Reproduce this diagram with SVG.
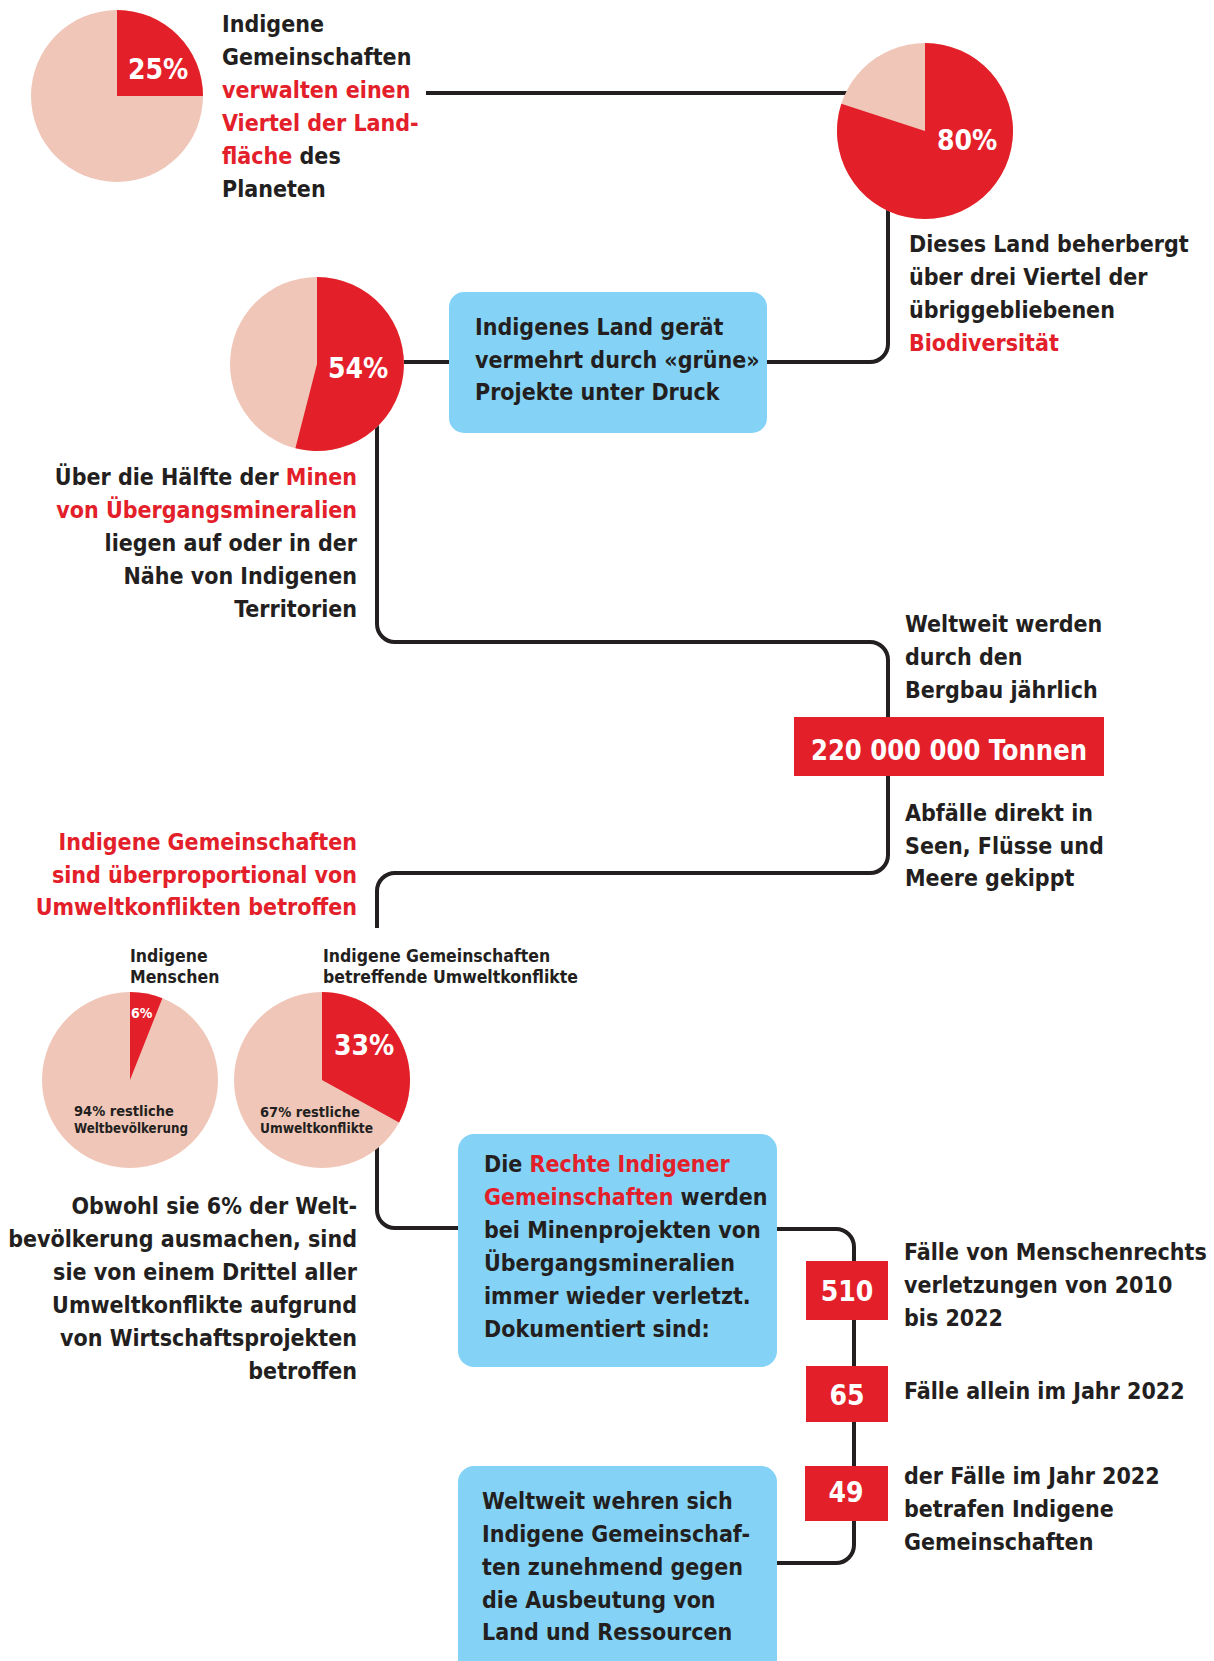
<svg xmlns="http://www.w3.org/2000/svg" width="1214" height="1661" viewBox="0 0 1214 1661">
<style>
.t{font-family:"DejaVu Sans Condensed","DejaVu Sans",sans-serif;font-stretch:condensed;font-weight:bold;font-size:23px;fill:#231f20}
.r{fill:#e3202a}
.w{fill:#ffffff}
.pct{font-size:28px;fill:#ffffff}
.lbl{font-size:17.5px}
.sm{font-size:14.5px}
.tiny{font-size:14px;fill:#ffffff}
.conn{fill:none;stroke:#231f20;stroke-width:4}
.pink{fill:#efc6b7}
.red{fill:#e3202a}
.blue{fill:#84d3f6}
</style>
<rect width="1214" height="1661" fill="#ffffff"/>
<g id="connectors">
<path class="conn" d="M426,93 H925"/>
<path class="conn" d="M888,190 V344 A18,18 0 0 1 870,362 H700"/>
<path class="conn" d="M317,362 H470"/>
<path class="conn" d="M377,420 V624 A18,18 0 0 0 395,642 H870 A18,18 0 0 1 888,660 V855 A18,18 0 0 1 870,873 H395 A18,18 0 0 0 377,891 V928"/>
<path class="conn" d="M377,1130 V1210 A18,18 0 0 0 395,1228 H480"/>
<path class="conn" d="M760,1229 H836 A18,18 0 0 1 854,1247 V1545 A18,18 0 0 1 836,1563 H760"/>
</g>
<g id="pie25">
<circle class="pink" cx="117" cy="96" r="86"/>
<path class="red" d="M117,96 V10 A86,86 0 0 1 203,96 Z"/>
<text class="t pct" x="128" y="79">25%</text>
</g>
<g id="text-land">
<text class="t" x="222" y="32">Indigene</text>
<text class="t" x="222" y="65">Gemeinschaften</text>
<text class="t r" x="222" y="98">verwalten einen</text>
<text class="t r" x="222" y="131">Viertel der Land-</text>
<text class="t" x="222" y="164"><tspan class="r">fläche</tspan> des</text>
<text class="t" x="222" y="197">Planeten</text>
</g>
<g id="pie80">
<circle class="pink" cx="925" cy="131" r="88"/>
<path class="red" d="M925,131 L925,43 A88,88 0 1 1 841.3,103.8 Z"/>
<text class="t pct" x="937" y="150">80%</text>
</g>
<g id="text-bio">
<text class="t" x="909" y="252">Dieses Land beherbergt</text>
<text class="t" x="909" y="285">über drei Viertel der</text>
<text class="t" x="909" y="318">übriggebliebenen</text>
<text class="t r" x="909" y="351">Biodiversität</text>
</g>
<g id="box-gruen">
<rect class="blue" x="449" y="292" width="318" height="141" rx="15"/>
<text class="t" x="475" y="335">Indigenes Land gerät</text>
<text class="t" x="475" y="368">vermehrt durch «grüne»</text>
<text class="t" x="475" y="400">Projekte unter Druck</text>
</g>
<g id="pie54">
<circle class="pink" cx="317" cy="364" r="87"/>
<path class="red" d="M317,364 L317,277 A87,87 0 1 1 295.4,448.3 Z"/>
<text class="t pct" x="328" y="378">54%</text>
</g>
<g id="text-minen" text-anchor="end">
<text class="t" x="357" y="485">Über die Hälfte der <tspan class="r">Minen</tspan></text>
<text class="t r" x="357" y="518">von Übergangsmineralien</text>
<text class="t" x="357" y="551">liegen auf oder in der</text>
<text class="t" x="357" y="584">Nähe von Indigenen</text>
<text class="t" x="357" y="617">Territorien</text>
</g>
<g id="text-bergbau">
<text class="t" x="905" y="632">Weltweit werden</text>
<text class="t" x="905" y="665">durch den</text>
<text class="t" x="905" y="698">Bergbau jährlich</text>
</g>
<g id="box-tonnen">
<rect class="red" x="794" y="717" width="310" height="59"/>
<text class="t pct" x="949" y="760" text-anchor="middle" textLength="276" lengthAdjust="spacingAndGlyphs">220 000 000 Tonnen</text>
</g>
<g id="text-abfaelle">
<text class="t" x="905" y="821">Abfälle direkt in</text>
<text class="t" x="905" y="854">Seen, Flüsse und</text>
<text class="t" x="905" y="886">Meere gekippt</text>
</g>
<g id="heading-konflikte" text-anchor="end">
<text class="t r" x="357" y="850">Indigene Gemeinschaften</text>
<text class="t r" x="357" y="883">sind überproportional von</text>
<text class="t r" x="357" y="915">Umweltkonflikten betroffen</text>
</g>
<g id="pie6">
<text class="t lbl" x="130" y="962">Indigene</text>
<text class="t lbl" x="130" y="983">Menschen</text>
<circle class="pink" cx="130" cy="1080" r="88"/>
<path class="red" d="M130,1080 L130,992 A88,88 0 0 1 162.4,998.2 Z"/>
<text class="t tiny" x="131" y="1018">6%</text>
<text class="t sm" x="74" y="1116">94% restliche</text>
<text class="t sm" x="74" y="1133" textLength="114" lengthAdjust="spacingAndGlyphs">Weltbevölkerung</text>
</g>
<g id="pie33">
<text class="t lbl" x="323" y="962">Indigene Gemeinschaften</text>
<text class="t lbl" x="323" y="983" textLength="255" lengthAdjust="spacingAndGlyphs">betreffende Umweltkonflikte</text>
<circle class="pink" cx="322" cy="1080" r="88"/>
<path class="red" d="M322,1080 L322,992 A88,88 0 0 1 399.1,1122.4 Z"/>
<text class="t pct" x="334" y="1055">33%</text>
<text class="t sm" x="260" y="1117">67% restliche</text>
<text class="t sm" x="260" y="1133" textLength="113" lengthAdjust="spacingAndGlyphs">Umweltkonflikte</text>
</g>
<g id="text-obwohl" text-anchor="end">
<text class="t" x="357" y="1214">Obwohl sie 6% der Welt-</text>
<text class="t" x="357" y="1247">bevölkerung ausmachen, sind</text>
<text class="t" x="357" y="1280">sie von einem Drittel aller</text>
<text class="t" x="357" y="1313">Umweltkonflikte aufgrund</text>
<text class="t" x="357" y="1346">von Wirtschaftsprojekten</text>
<text class="t" x="357" y="1379">betroffen</text>
</g>
<g id="box-rechte">
<rect class="blue" x="458" y="1134" width="319" height="233" rx="16"/>
<text class="t" x="484" y="1172">Die <tspan class="r">Rechte Indigener</tspan></text>
<text class="t" x="484" y="1205"><tspan class="r">Gemeinschaften</tspan> werden</text>
<text class="t" x="484" y="1238">bei Minenprojekten von</text>
<text class="t" x="484" y="1271">Übergangsmineralien</text>
<text class="t" x="484" y="1304">immer wieder verletzt.</text>
<text class="t" x="484" y="1337">Dokumentiert sind:</text>
</g>
<g id="box-510">
<rect class="red" x="806" y="1261" width="82" height="59"/>
<text class="t pct" x="847" y="1301" text-anchor="middle">510</text>
</g>
<g id="text-510">
<text class="t" x="904" y="1260">Fälle von Menschenrechts</text>
<text class="t" x="904" y="1293">verletzungen von 2010</text>
<text class="t" x="904" y="1326">bis 2022</text>
</g>
<g id="box-65">
<rect class="red" x="806" y="1366" width="82" height="56"/>
<text class="t pct" x="847" y="1405" text-anchor="middle">65</text>
</g>
<g id="text-65">
<text class="t" x="904" y="1399">Fälle allein im Jahr 2022</text>
</g>
<g id="box-49">
<rect class="red" x="805" y="1466" width="83" height="55"/>
<text class="t pct" x="846" y="1502" text-anchor="middle">49</text>
</g>
<g id="text-49">
<text class="t" x="904" y="1484">der Fälle im Jahr 2022</text>
<text class="t" x="904" y="1517">betrafen Indigene</text>
<text class="t" x="904" y="1550">Gemeinschaften</text>
</g>
<g id="box-wehren">
<rect class="blue" x="458" y="1466" width="319" height="230" rx="16"/>
<text class="t" x="482" y="1509">Weltweit wehren sich</text>
<text class="t" x="482" y="1542">Indigene Gemeinschaf-</text>
<text class="t" x="482" y="1575">ten zunehmend gegen</text>
<text class="t" x="482" y="1608">die Ausbeutung von</text>
<text class="t" x="482" y="1640">Land und Ressourcen</text>
</g>
</svg>
